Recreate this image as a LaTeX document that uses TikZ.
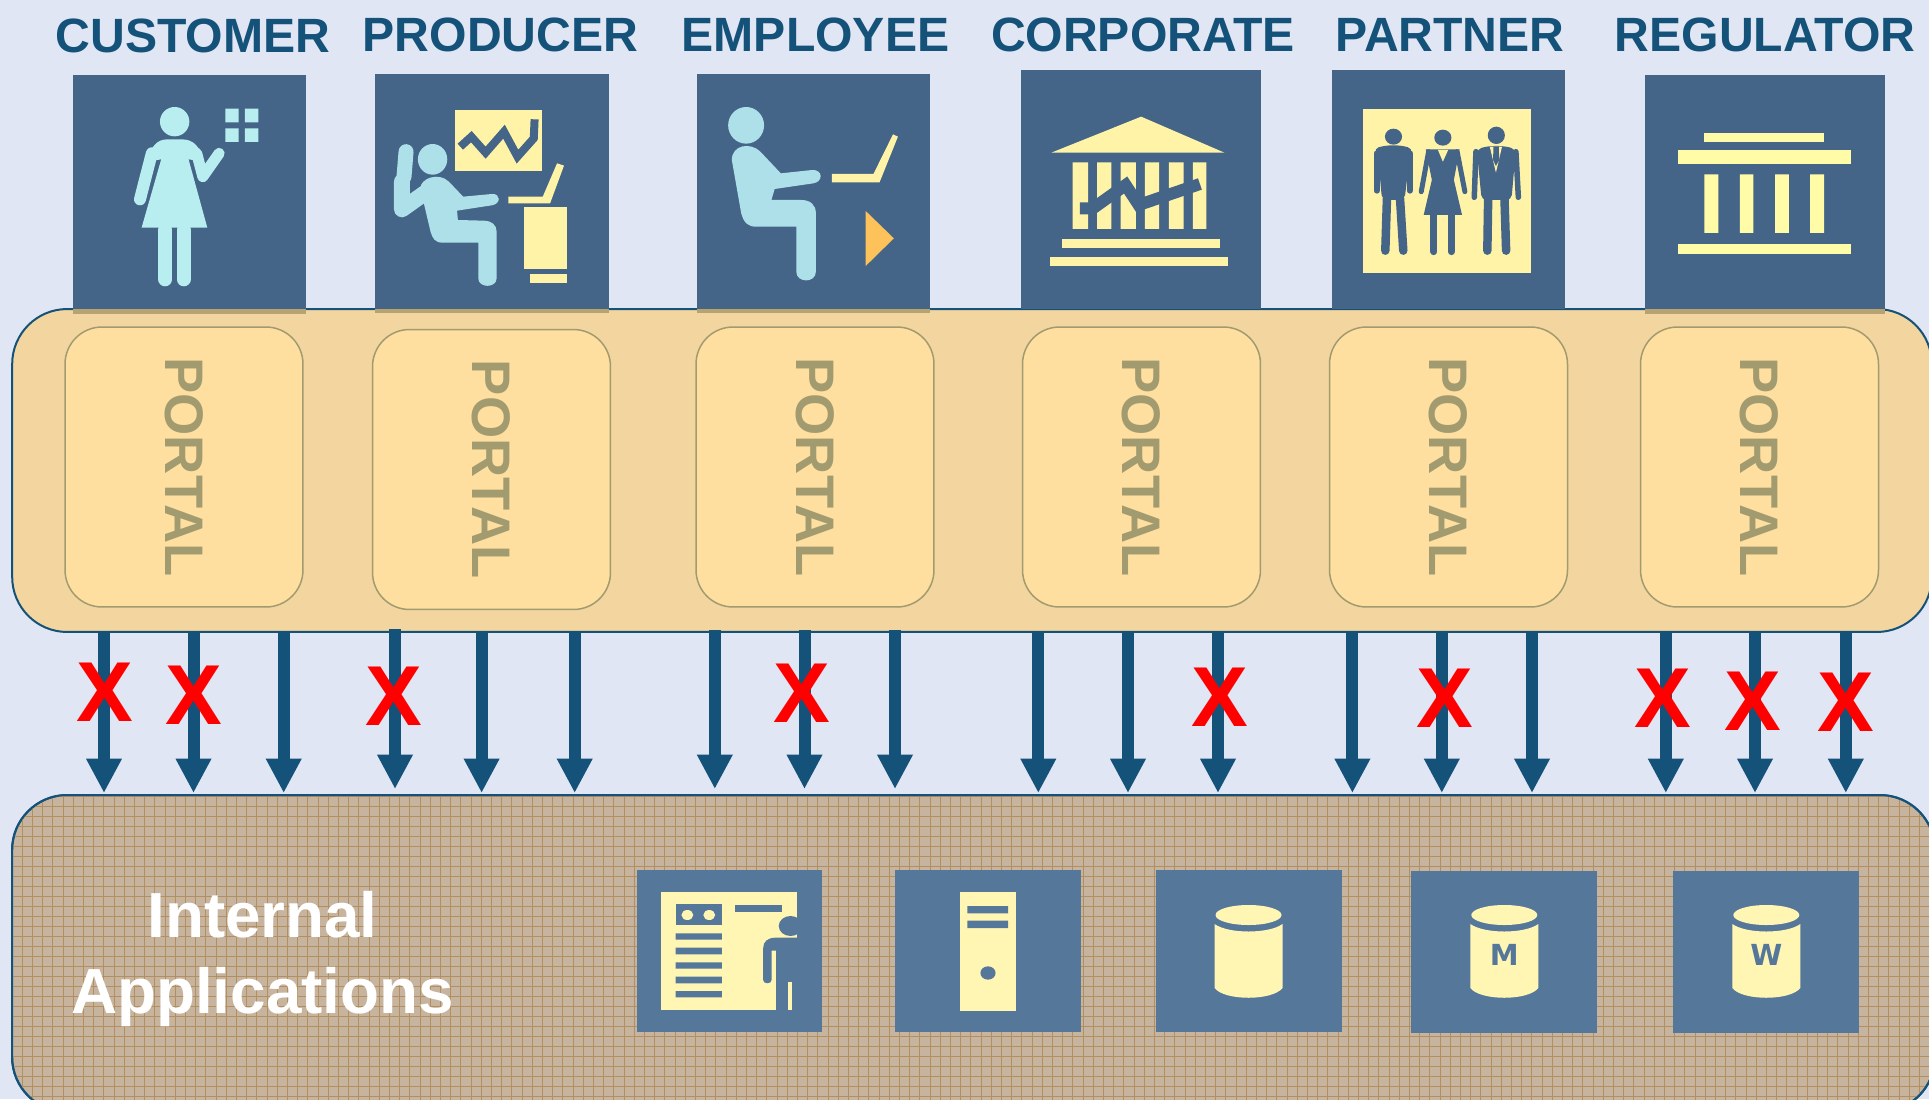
\documentclass[tikz,border=0pt]{standalone}
\usepackage{fontspec}
\setmainfont{Liberation Sans}
\newfontfamily\dbfont{DejaVu Sans}
\usetikzlibrary{arrows,arrows.meta}
\definecolor{pagebg}{HTML}{E0E6F4}
\definecolor{navy}{HTML}{14527A}
\definecolor{iconblue}{HTML}{446587}
\definecolor{appblue}{HTML}{557799}
\definecolor{paleyellow}{HTML}{FFF3A8}
\definecolor{dbyellow}{HTML}{FFF6B4}
\definecolor{brightyellow}{HTML}{FFFBA6}
\definecolor{skin}{HTML}{AEE0EA}
\definecolor{skinlight}{HTML}{B8EEF0}
\definecolor{arrowamber}{HTML}{FDC25A}
\definecolor{portalsand}{HTML}{F3D5A0}
\definecolor{portalfill}{HTML}{FEDF9F}
\definecolor{portalink}{HTML}{A39B70}
\definecolor{bandtan}{HTML}{B7A272}
\definecolor{appsand}{HTML}{C7B49F}
\definecolor{appgrid}{HTML}{B38E5E}
\tikzset{
	crop/.style n args={3}{shift={(#1,#2)},x=#3,y=-0.006667cm},
	heading/.style={anchor=base,inner sep=0pt,text=navy,font=\bfseries\fontsize{27.4}{27.4}\selectfont},
	iconbox/.style={fill=iconblue,inner sep=0pt,outer sep=0pt},
	appbox/.style={fill=appblue,inner sep=0pt,outer sep=0pt,minimum width=3.72cm,minimum height=3.24cm},
	bigpanel/.style={draw=navy,line width=0.04cm,rounded corners=1.1cm,inner sep=0pt,outer sep=0pt},
	portalbox/.style={draw=portalink,line width=0.03cm,fill=portalfill,rounded corners=0.74cm,inner sep=0pt,outer sep=0pt,
		minimum width=4.76cm,minimum height=5.6cm,text=portalink,font=\bfseries\fontsize{30.9}{30.9}\selectfont},
	feed/.style={draw=navy,line width=0.24cm,-{Triangle[length=0.69cm,width=0.67cm]}},
	cross/.style={text=red,inner sep=0pt,font=\bfseries\fontsize{48.4}{48.4}\selectfont},
	limb/.style={line width=#1,line cap=round,line join=round},
	dbletter/.style={text=appblue,inner sep=0pt,font=\dbfont\bfseries\fontsize{16.5}{16.5}\selectfont}
}
\begin{document}
\begin{tikzpicture}[x=0.02cm,y=-0.02cm]
	\useasboundingbox (0,0) rectangle (1929,1099);
	\fill[pagebg] (0,0) rectangle (1929,1099);

	\node[heading] (customerhead) at (193,52.5) {CUSTOMER};
	\node[heading] (producerhead) at (500.5,51) {PRODUCER};
	\node[heading] (employeehead) at (815.5,51) {EMPLOYEE};
	\node[heading] (corporatehead) at (1143,51) {CORPORATE};
	\node[heading] (partnerhead) at (1450,51) {PARTNER};
	\node[heading] (regulatorhead) at (1765,51) {REGULATOR};

	\node[bigpanel,fill=portalsand,minimum width=38.4cm,minimum height=6.46cm] (portals) at (972,470.5) {};
	\node[bigpanel,fill=appsand,minimum width=38.46cm,minimum height=6.34cm] (apps) at (973.5,953.5) {};
	\begin{scope}
		\clip[rounded corners=1.1cm] (12,795) rectangle (1935,1112);
		\foreach \gx in {0,...,189}{
			\draw[appgrid,line width=0.016cm] (1.7+10.2*\gx,795) -- (1.7+10.2*\gx,1112);
		}
		\foreach \gy in {0,...,31}{
			\draw[appgrid,line width=0.016cm] (12,796+10*\gy) -- (1935,796+10*\gy);
		}
	\end{scope}
	\draw[navy,line width=0.04cm,rounded corners=1.1cm] (12,795) rectangle (1935,1112);

	\node[iconbox,minimum width=4.66cm,minimum height=4.78cm] (customer) at (189.5,194.5) {};
	\node[iconbox,minimum width=4.68cm,minimum height=4.78cm] (producer) at (492,193.5) {};
	\node[iconbox,minimum width=4.66cm,minimum height=4.78cm] (employee) at (813.5,193.5) {};
	\node[iconbox,minimum width=4.8cm,minimum height=4.78cm] (corporate) at (1141,189.5) {};
	\node[iconbox,minimum width=4.66cm,minimum height=4.78cm] (partner) at (1448.5,189.5) {};
	\node[iconbox,minimum width=4.8cm,minimum height=4.78cm] (regulator) at (1765,194.5) {};
	\fill[bandtan] (73,309) rectangle (306,314);
	\fill[bandtan] (375,309) rectangle (609,313);
	\fill[bandtan] (697,309) rectangle (930,313);
	\fill[bandtan] (1645,309) rectangle (1885,314);

	\node[portalbox] (portal1) at (184,467) {\rotatebox{-90}{PORTAL}};
	\node[portalbox] (portal2) at (491.5,469.5) {\rotatebox{-90}{PORTAL}};
	\node[portalbox] (portal3) at (815,467) {\rotatebox{-90}{PORTAL}};
	\node[portalbox] (portal4) at (1141.5,467) {\rotatebox{-90}{PORTAL}};
	\node[portalbox] (portal5) at (1448.5,467) {\rotatebox{-90}{PORTAL}};
	\node[portalbox] (portal6) at (1759.5,467) {\rotatebox{-90}{PORTAL}};

	\foreach \i/\xa/\ya/\yb in {1/104/632/793,2/193.5/632/793,3/283.7/632/793,4/395/629/789,5/481.6/632/793,6/574.7/632/793,
		7/714.8/630/789,8/804.5/630/789,9/895/630/789,10/1038.3/632/793,11/1128/632/793,12/1218/632/793,
		13/1352.4/632/793,14/1441.8/632/793,15/1532/632/793,16/1665.8/632/793,17/1755/632/793,18/1845.8/632/793}{
		\coordinate (out\i) at (\xa,\ya);
		\coordinate (in\i) at (\xa,\yb);
		\draw[feed] (out\i) -- (in\i);
	}

	\node[cross] (cross1) at (104.5,692) {X};
	\node[cross] (cross2) at (193.5,695.7) {X};
	\node[cross] (cross3) at (394,696) {X};
	\node[cross] (cross4) at (802,693) {X};
	\node[cross] (cross5) at (1220,697) {X};
	\node[cross] (cross6) at (1445,698.7) {X};
	\node[cross] (cross7) at (1662.9,698) {X};
	\node[cross] (cross8) at (1752.7,701.7) {X};
	\node[cross] (cross9) at (1845.4,702) {X};

	\node[white,align=center,inner sep=0pt,font=\bfseries\fontsize{36.3}{43.2}\selectfont] (internal) at (262.5,959) {Internal\\Applications};

	\node[appbox] (docs) at (729.5,950.5) {};
	\node[appbox] (server) at (988,951) {};
	\node[appbox] (database) at (1248.5,951) {};
	\node[appbox] (dbm) at (1504.3,951.5) {};
	\node[appbox] (dbw) at (1766.3,951.5) {};

	% customer
	\begin{scope}[crop={0}{0}{0.008163cm}]
		\fill[skinlight] (428,365) ellipse [x radius=36,y radius=44];
		\fill[skinlight] (552,326) rectangle (585,367) (600,326) rectangle (633,367) (552,385) rectangle (585,426) (600,385) rectangle (633,426);
		\fill[skinlight] (362,485) .. controls (368,440) and (385,418) .. (410,418) -- (445,418) .. controls (475,418) and (490,440) .. (500,485) -- (462,478) -- (508,683) -- (347,683) -- (395,478) -- cycle;
		\draw[skinlight,limb=0.24cm] (372,460) -- (343,598);
		\draw[skinlight,limb=0.22cm] (482,460) -- (497,530) -- (537,460);
		\draw[skinlight,limb=0.28cm] (405,690) -- (405,838);
		\draw[skinlight,limb=0.28cm] (450,690) -- (450,838);
	\end{scope}
	% producer
	\begin{scope}[crop={0}{0}{0.008163cm}]
		\fill[skin] (1060,478) ellipse [x radius=36,y radius=46];
		\draw[skin,limb=0.3cm] (995,455) -- (990,530);
		\draw[skin,limb=0.32cm] (985,545) -- (985,628) -- (1040,580);
		\fill[skin] (1030,565) .. controls (1030,535) and (1075,515) .. (1100,545) -- (1135,590) -- (1205,582) .. controls (1228,580) and (1228,612) .. (1205,616) -- (1120,632) -- (1122,660) -- (1185,662) .. controls (1205,662) and (1217,675) .. (1217,695) -- (1217,835) .. controls (1217,865) and (1172,865) .. (1172,835) -- (1172,728) -- (1085,728) .. controls (1065,728) and (1060,715) .. (1055,695) -- cycle;
		\fill[paleyellow] (1115,330) rectangle (1328,512);
		\draw[iconblue,line width=0.16cm,line join=miter] (1128,440) -- (1155,410) -- (1190,458) -- (1235,395) -- (1268,470) -- (1308,415) -- (1310,358);
		\fill[paleyellow] (1246,590) -- (1330,590) -- (1365,490) -- (1382,497) -- (1348,610) -- (1246,610) -- cycle;
		\fill[paleyellow] (1284,620) rectangle (1390,808);
		\fill[paleyellow] (1299,822) rectangle (1390,848);
	\end{scope}
	% employee
	\begin{scope}[crop={640}{0}{0.008163cm}]
		\fill[skin] (260,376) ellipse [x radius=44,y radius=55];
		\fill[skin] (225,480) .. controls (225,435) and (270,425) .. (295,455) -- (345,520) -- (422,510) .. controls (448,508) and (450,545) .. (425,550) -- (330,567) -- (322,600) -- (395,600) .. controls (418,600) and (431,615) .. (431,640) -- (431,815) .. controls (431,850) and (383,850) .. (383,815) -- (383,680) -- (285,680) .. controls (265,680) and (255,670) .. (248,640) -- cycle;
		\fill[paleyellow] (470,522) -- (572,522) -- (620,403) -- (632,410) -- (587,547) -- (470,547) -- cycle;
		\fill[arrowamber] (553,633) -- (622,715) -- (553,798) -- cycle;
	\end{scope}
	% corporate
	\begin{scope}[crop={640}{0}{0.008163cm}]
		\fill[paleyellow] (1008,458) -- (1228,350) -- (1432,458) -- cycle;
		\fill[paleyellow] (1060,487) rectangle (1098,687) (1120,487) rectangle (1155,687) (1178,487) rectangle (1215,687) (1237,487) rectangle (1272,687) (1296,487) rectangle (1332,687) (1355,487) rectangle (1388,687);
		\draw[iconblue,line width=0.24cm,line join=miter] (1078,625) -- (1110,625) -- (1190,555) -- (1222,615) -- (1372,552);
		\fill[paleyellow] (1035,716) rectangle (1420,745);
		\fill[paleyellow] (1004,770) rectangle (1440,799);
	\end{scope}
	% partner
	\begin{scope}[crop={1289}{0}{0.008163cm}]
		\fill[paleyellow] (181,326) rectangle (593,818);
		\fill[iconblue] (256,410) ellipse [x radius=21,y radius=24];
		\fill[iconblue,rounded corners=0.1cm] (208,445) -- (240,436) -- (272,436) -- (303,445) -- (296,470) -- (283,600) -- (228,600) -- (218,470) -- cycle;
		\draw[iconblue,limb=0.12cm] (215,460) -- (215,572);
		\draw[iconblue,limb=0.12cm] (296,460) -- (296,572);
		\draw[iconblue,limb=0.17cm] (240,595) -- (236,752);
		\draw[iconblue,limb=0.17cm] (272,595) -- (280,752);
		\fill[iconblue] (377,413) ellipse [x radius=21,y radius=24];
		\fill[iconblue] (335,448) -- (418,448) -- (404,540) -- (424,645) -- (330,645) -- (350,540) -- cycle;
		\fill[paleyellow] (365,450) -- (390,450) -- (377,485) -- cycle;
		\draw[iconblue,limb=0.1cm] (342,455) -- (324,575);
		\draw[iconblue,limb=0.1cm] (412,455) -- (431,575);
		\draw[iconblue,limb=0.14cm] (355,645) -- (355,755);
		\draw[iconblue,limb=0.14cm] (398,645) -- (398,755);
		\fill[iconblue] (508,406) ellipse [x radius=21,y radius=26];
		\fill[iconblue,rounded corners=0.1cm] (460,447) -- (490,438) -- (526,438) -- (556,447) -- (545,600) -- (472,600) -- cycle;
		\fill[paleyellow] (492,440) -- (522,440) -- (507,518) -- cycle;
		\fill[iconblue] (501,440) -- (514,440) -- (515,480) -- (507,498) -- (500,480) -- cycle;
		\draw[iconblue,limb=0.11cm] (458,455) -- (454,592);
		\draw[iconblue,limb=0.11cm] (556,455) -- (562,592);
		\draw[iconblue,limb=0.17cm] (488,595) -- (486,752);
		\draw[iconblue,limb=0.17cm] (528,595) -- (532,752);
	\end{scope}
	% regulator
	\begin{scope}[crop={1289}{0}{0.008163cm}]
		\fill[brightyellow] (1018,398) rectangle (1312,425);
		\fill[brightyellow] (952,451) rectangle (1378,491);
		\fill[brightyellow] (1018,523) rectangle (1052,699) (1105,523) rectangle (1138,699) (1191,523) rectangle (1225,699) (1277,523) rectangle (1311,699);
		\fill[brightyellow] (952,733) rectangle (1378,761);
	\end{scope}
	% docs and server
	\begin{scope}[crop={620}{840}{0.008418cm}]
		\fill[dbyellow] (98,156) rectangle (421,510);
		\fill[appblue] (132,193) rectangle (242,256);
		\fill[dbyellow] (160,225) ellipse [x radius=14,y radius=15];
		\fill[dbyellow] (212,225) ellipse [x radius=14,y radius=15];
		\fill[appblue] (132,280) rectangle (242,299) (132,323) rectangle (242,343) (132,367) rectangle (242,386) (132,410) rectangle (242,430) (132,453) rectangle (242,472);
		\fill[appblue] (274,195) rectangle (385,216);
		\fill[appblue] (405,258) ellipse [x radius=28,y radius=30];
		\fill[appblue] (423,228) rectangle (440,290);
		\fill[appblue] (423,293) -- (370,293) .. controls (350,293) and (340,305) .. (340,325) -- (340,420) .. controls (340,433) and (360,433) .. (360,420) -- (360,332) -- (371,332) -- (371,512) -- (423,512) -- cycle;
		\fill[dbyellow] (398,427) rectangle (409,510);
		\fill[dbyellow] (807,155) rectangle (941,514);
		\fill[appblue] (825,198) rectangle (922,220) (825,242) rectangle (922,264);
		\fill[appblue] (874,399) ellipse [x radius=18,y radius=20];
	\end{scope}
	% cylinders
	\foreach \cx in {1248.5,1504.3,1766.3}{
		\fill[dbyellow] (\cx,915) ellipse [x radius=33,y radius=10];
		\fill[dbyellow] (\cx-34,924) .. controls (\cx-20,934) and (\cx+20,934) .. (\cx+34,924) -- (\cx+34,988) .. controls (\cx+24,1001) and (\cx-24,1001) .. (\cx-34,988) -- cycle;
	}
	\node[dbletter] (letterm) at (1504.3,955) {M};
	\node[dbletter] (letterw) at (1766.3,955) {W};
\end{tikzpicture}
\end{document}
